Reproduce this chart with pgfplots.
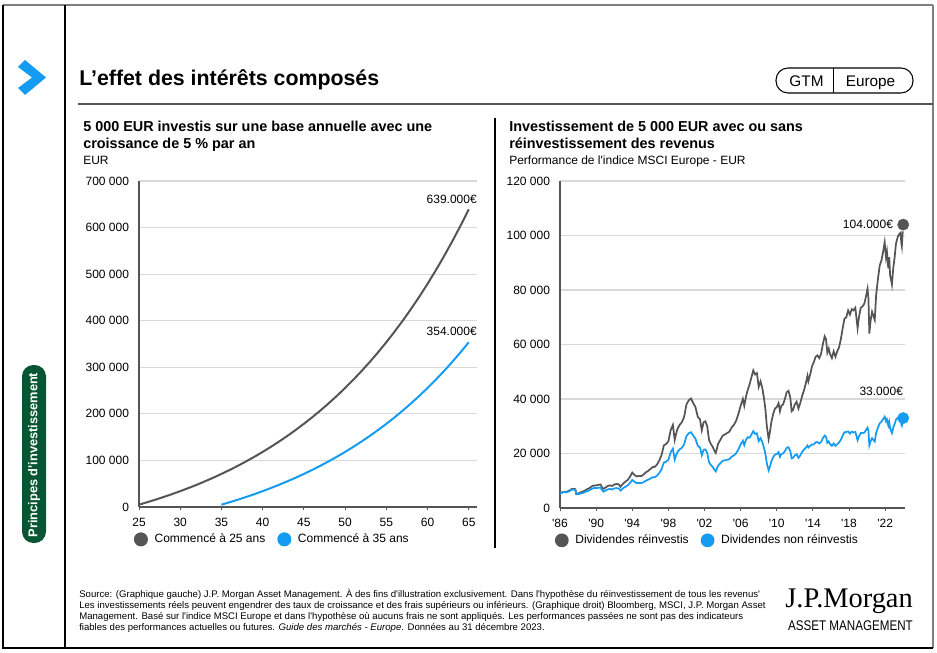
\documentclass[border=0pt]{standalone}
\usepackage{pgfplots}
\usepackage{pgfplotstable}
\pgfplotsset{compat=1.18}
\usepackage{fontspec}
\setmainfont{Liberation Sans}
\newfontfamily\jpserif{Liberation Serif}
\newfontfamily\jpnarrow[FakeStretch=0.83]{Liberation Sans}
\newcommand\q{\textquotesingle}
\definecolor{jgray}{RGB}{85,85,88}
\definecolor{jblue}{RGB}{20,156,243}
\definecolor{jgreen}{RGB}{8,85,52}
\definecolor{gridc}{RGB}{217,217,217}
\definecolor{axc}{RGB}{85,85,85}

\pgfplotstableread{
x y
25 5000
26 10250
27 15763
28 21551
29 27628
30 34010
31 40710
32 47746
33 55133
34 62889
35 71034
36 79586
37 88565
38 97993
39 107893
40 118287
41 129202
42 140662
43 152695
44 165330
45 178596
46 192526
47 207152
48 222510
49 238635
50 255567
51 273346
52 292013
53 311614
54 332194
55 353804
56 376494
57 400319
58 425335
59 451602
60 479182
61 508141
62 538548
63 570475
64 603999
65 639199
}\tabA

\pgfplotstableread{
x y
35 5000
36 10250
37 15763
38 21551
39 27628
40 34010
41 40710
42 47746
43 55133
44 62889
45 71034
46 79586
47 88565
48 97993
49 107893
50 118287
51 129202
52 140662
53 152695
54 165330
55 178596
56 192526
57 207152
58 222510
59 238635
60 255567
61 273346
62 292013
63 311614
64 332194
65 353804
}\tabB

\pgfplotstableread{
x y
1986.0 5200
1986.25 5800
1986.5 5900
1986.75 6000
1987.0 6300
1987.25 6900
1987.5 7100
1987.7 6900
1987.8 5200
1988.0 5300
1988.25 5700
1988.5 6000
1988.75 6400
1989.0 6900
1989.25 7300
1989.5 7900
1989.75 8300
1990.0 8300
1990.25 8500
1990.5 8600
1990.65 7600
1990.8 7000
1991.0 7400
1991.25 8000
1991.5 8300
1991.75 8100
1992.0 8600
1992.25 8800
1992.5 8700
1992.7 7800
1992.9 8600
1993.0 9000
1993.25 9700
1993.5 10300
1993.75 11500
1994.0 13000
1994.1 12600
1994.3 12000
1994.5 11600
1994.75 11800
1995.0 11700
1995.25 12300
1995.5 13100
1995.75 13600
1996.0 14300
1996.25 15000
1996.5 15100
1996.75 16000
1997.0 17500
1997.25 19500
1997.5 23000
1997.75 23500
1998.0 24500
1998.25 28500
1998.5 30500
1998.7 25000
1998.8 26500
1999.0 29000
1999.25 30500
1999.5 31500
1999.75 33500
2000.0 38000
2000.25 39500
2000.5 40200
2000.75 38500
2001.0 37000
2001.25 33500
2001.5 32500
2001.7 28500
2001.9 31500
2002.1 31800
2002.3 30000
2002.5 25000
2002.7 23500
2002.9 22500
2003.1 21000
2003.25 20200
2003.5 23500
2003.75 25000
2004.0 26500
2004.25 27000
2004.5 27500
2004.75 28000
2005.0 29500
2005.25 30500
2005.5 32000
2005.75 34500
2006.0 37500
2006.25 40000
2006.4 37500
2006.6 41000
2006.8 43500
2007.0 45500
2007.2 48000
2007.4 50500
2007.6 49000
2007.8 49500
2008.0 44500
2008.2 46500
2008.4 44000
2008.6 40000
2008.75 36000
2008.9 30000
2009.1 25300
2009.25 28000
2009.4 31500
2009.6 34500
2009.8 36500
2010.0 37000
2010.2 38500
2010.35 35500
2010.5 37500
2010.7 38000
2010.9 40000
2011.1 42500
2011.3 43000
2011.5 40500
2011.65 35500
2011.8 36000
2012.0 38000
2012.2 39000
2012.4 36500
2012.6 38500
2012.8 41000
2013.0 43000
2013.2 45500
2013.4 48500
2013.5 46500
2013.7 49000
2013.9 52000
2014.1 53500
2014.3 55500
2014.5 56000
2014.7 55000
2014.9 56500
2015.1 60000
2015.3 63000
2015.45 62000
2015.6 57000
2015.75 58500
2015.9 56500
2016.1 55000
2016.3 57500
2016.5 55500
2016.7 57500
2016.9 59000
2017.1 62000
2017.3 66000
2017.5 69500
2017.7 70000
2017.9 72500
2018.1 71000
2018.3 73000
2018.5 72500
2018.7 73500
2018.85 69000
2018.95 66000
2019.1 70000
2019.3 73500
2019.5 74000
2019.7 75000
2019.9 78000
2020.05 80500
2020.15 77000
2020.25 64000
2020.4 69000
2020.55 72000
2020.7 70500
2020.85 69000
2021.0 78000
2021.2 84000
2021.4 89000
2021.6 91000
2021.75 93500
2021.95 97500
2022.1 92000
2022.2 94000
2022.35 88000
2022.45 92000
2022.55 85500
2022.75 82000
2022.9 88000
2023.05 92000
2023.2 97000
2023.4 99500
2023.55 100500
2023.7 101000
2023.8 97000
2023.85 96000
2023.95 101500
}\tabC

\pgfplotstableread{
x y
1986.0 5200
1986.25 5700
1986.5 5800
1986.75 5800
1987.0 6100
1987.25 6600
1987.5 6800
1987.7 6600
1987.8 5000
1988.0 5000
1988.25 5300
1988.5 5500
1988.75 5800
1989.0 6200
1989.25 6500
1989.5 7000
1989.75 7300
1990.0 7300
1990.25 7400
1990.5 7500
1990.65 6600
1990.8 6000
1991.0 6300
1991.25 6800
1991.5 7000
1991.75 6800
1992.0 7200
1992.25 7300
1992.5 7200
1992.7 6400
1992.9 7000
1993.0 7300
1993.25 7800
1993.5 8300
1993.75 9200
1994.0 10300
1994.1 10000
1994.3 9500
1994.5 9100
1994.75 9200
1995.0 9100
1995.25 9500
1995.5 10000
1995.75 10400
1996.0 10800
1996.25 11300
1996.5 11300
1996.75 11900
1997.0 12900
1997.25 14300
1997.5 16700
1997.75 17000
1998.0 17700
1998.25 20400
1998.5 21800
1998.7 17800
1998.8 18800
1999.0 20500
1999.25 21500
1999.5 22100
1999.75 23400
2000.0 26400
2000.25 27400
2000.5 27800
2000.75 26600
2001.0 25400
2001.25 22900
2001.5 22200
2001.7 19400
2001.9 21400
2002.1 21500
2002.3 20200
2002.5 16800
2002.7 15800
2002.9 15100
2003.1 14000
2003.25 13400
2003.5 15500
2003.75 16400
2004.0 17300
2004.25 17500
2004.5 17700
2004.75 17900
2005.0 18800
2005.25 19300
2005.5 20100
2005.75 21500
2006.0 23300
2006.25 24700
2006.4 23100
2006.6 25100
2006.8 26000
2007.0 25800
2007.2 27000
2007.4 28200
2007.6 27200
2007.8 27400
2008.0 24600
2008.2 25600
2008.4 24200
2008.6 21900
2008.75 19700
2008.9 16400
2009.1 13800
2009.25 15200
2009.4 17100
2009.6 18600
2009.8 19600
2010.0 19800
2010.2 20500
2010.35 18800
2010.5 19800
2010.7 20000
2010.9 20900
2011.1 22100
2011.3 22300
2011.5 20900
2011.65 18200
2011.8 18400
2012.0 19300
2012.2 19700
2012.4 18400
2012.6 19300
2012.8 20500
2013.0 21400
2013.2 22000
2013.4 22900
2013.5 22200
2013.7 22800
2013.9 23300
2014.1 23300
2014.3 24100
2014.5 24200
2014.7 23700
2014.9 24200
2015.1 25600
2015.3 26600
2015.45 26100
2015.6 23900
2015.75 24400
2015.9 23500
2016.1 22800
2016.3 23700
2016.5 22800
2016.7 23500
2016.9 24000
2017.1 25100
2017.3 26600
2017.5 27800
2017.7 27900
2017.9 28100
2018.1 27300
2018.3 28000
2018.5 27700
2018.7 27900
2018.85 26100
2018.95 24900
2019.1 26300
2019.3 27500
2019.5 27500
2019.7 27700
2019.9 28700
2020.05 29500
2020.15 28200
2020.25 23000
2020.4 24600
2020.55 25600
2020.7 25000
2020.85 24400
2021.0 27500
2021.2 29500
2021.4 31100
2021.6 31700
2021.75 32500
2021.95 33500
2022.1 31800
2022.2 32500
2022.35 30300
2022.45 31600
2022.55 29300
2022.75 27500
2022.9 29500
2023.05 30800
2023.2 32400
2023.4 33100
2023.55 32500
2023.7 32300
2023.8 30800
2023.85 30300
2023.95 31800
}\tabD

\pgfplotsset{
  jpm/.style={
    scale only axis,
    anchor=south west,
    axis x line*=bottom,
    axis y line*=left,
    axis line style={-},
    x axis line style={axc, line width=1.1pt},
    y axis line style={axc, line width=1.3pt},
    ymajorgrids,
    grid style={gridc, line width=0.8pt},
    tick align=outside,
    major tick length=2.5pt,
    xtick style={axc, line width=0.6pt},
    ytick style={draw=none},
    tick label style={font=\fontsize{9}{10}\selectfont, text=black},
    xticklabel style={yshift=-2pt, text height=6.6pt, text depth=0pt},
    yticklabel style={xshift=-1.5pt},
    scaled y ticks=false,
    /pgf/number format/.cd, fixed, assume math mode=true, 1000 sep={\ },
    /pgfplots/.cd,
    legend columns=2,
    legend cell align=left,
    legend style={draw=none, fill=none, at={(0,0)}, anchor=north west,
      font=\fontsize{9}{10}\selectfont, inner sep=0pt,
      /tikz/every even column/.append style={column sep=7pt}},
    legend image code/.code={\fill[##1] (0pt,0pt) circle (4.5pt); \path (7.5pt,0pt);},
  }
}

\begin{document}
\begin{tikzpicture}
\useasboundingbox (0,0) rectangle (702.75pt,-489pt);
\begin{scope}[x=0.75pt,y=-0.75pt]
  % frame
  \draw[color=gray, line width=1.3pt] (3,5) -- (933,5);
  \draw[color=gray, line width=1.3pt] (933,5) -- (933,648);
  \draw[color=black, line width=0.9pt] (3,5) -- (3,648) -- (933,648);
  \draw[color=black, line width=0.8pt] (65,5) -- (65,648);
  % chevron
  \fill[jblue] (18,67) -- (25,60) -- (46,77.5) -- (25,95) -- (18,88) -- (32,77.5) -- cycle;
  % title
  \node[anchor=base west, inner sep=0pt, font=\bfseries\fontsize{16}{19}\selectfont] at (79,86) {L’effet des intérêts composés};
  \draw[color=axc, line width=1.2pt] (78,104) -- (933,104);
  % GTM box
  \draw[line width=0.8pt, rounded corners=9pt] (776,68) rectangle (913,93);
  \draw[line width=0.6pt] (833,68) -- (833,93);
  \node[anchor=base, inner sep=0pt, font=\fontsize{11.5}{13}\selectfont] at (806.5,87) {GTM};
  \node[anchor=base, inner sep=0pt, font=\fontsize{11.5}{13}\selectfont] at (870.5,87) {Europe};
  % sidebar pill
  \fill[jgreen, rounded corners=8.5pt] (22,365) rectangle (46,543);
  \node[rotate=90, text=white, inner sep=0pt, font=\bfseries\fontsize{9.6}{11}\selectfont] at (34,455) {Principes d\q investissement};
  % separator
  \draw[line width=0.8pt] (495,118) -- (495,548);
  % subtitles left
  \node[anchor=base west, inner sep=0pt, font=\bfseries\fontsize{10.8}{12}\selectfont] at (83,132) {5 000 EUR investis sur une base annuelle avec une};
  \node[anchor=base west, inner sep=0pt, font=\bfseries\fontsize{10.8}{12}\selectfont] at (83,149) {croissance de 5 \% par an};
  \node[anchor=base west, inner sep=0pt, font=\fontsize{9}{10}\selectfont] at (83,164.5) {EUR};
  % subtitles right
  \node[anchor=base west, inner sep=0pt, font=\bfseries\fontsize{10.8}{12}\selectfont] at (509,132) {Investissement de 5 000 EUR avec ou sans};
  \node[anchor=base west, inner sep=0pt, font=\bfseries\fontsize{10.8}{12}\selectfont] at (509,149) {réinvestissement des revenus};
  \node[anchor=base west, inner sep=0pt, font=\fontsize{9}{10}\selectfont] at (509,164.5) {Performance de l\q indice MSCI Europe - EUR};
  % footer
  \node[anchor=base west, inner sep=0pt, font=\fontsize{7.2}{8}\selectfont] at (79,597.5) {Source: (Graphique gauche) J.P. Morgan Asset Management. À des fins d\q illustration exclusivement. Dans l\q hypothèse du réinvestissement de tous les revenus\q};
  \node[anchor=base west, inner sep=0pt, font=\fontsize{7.2}{8}\selectfont] at (79,608.5) {Les investissements réels peuvent engendrer des taux de croissance et des frais supérieurs ou inférieurs. (Graphique droit) Bloomberg, MSCI, J.P. Morgan Asset};
  \node[anchor=base west, inner sep=0pt, font=\fontsize{7.2}{8}\selectfont] at (79,619.5) {Management. Basé sur l\q indice MSCI Europe et dans l\q hypothèse où aucuns frais ne sont appliqués. Les performances passées ne sont pas des indicateurs};
  \node[anchor=base west, inner sep=0pt, font=\fontsize{7.2}{8}\selectfont] at (79,630.5) {fiables des performances actuelles ou futures. \textit{Guide des marchés - Europe}. Données au 31 décembre 2023.};
  % logo
  \node[anchor=base east, inner sep=0pt, font=\jpserif\fontsize{21.3}{23}\selectfont] at (913,607) {J.P.Morgan};
  \node[anchor=base east, inner sep=0pt, font=\jpnarrow\fontsize{10.5}{11}\selectfont] at (913,630) {ASSET MANAGEMENT};
\end{scope}

% left chart
\begin{axis}[jpm, at={(104.25pt,-380.25pt)}, width=253.5pt, height=244.5pt,
  xmin=25, xmax=66, ymin=0, ymax=700000,
  xtick={25,30,...,65}, ytick={0,100000,...,700000},
  legend style={xshift=-4pt, yshift=-18pt}]
\addplot[color=jgray, line width=1.5pt] table {\tabA};
\addlegendentry{Commencé à 25 ans}
\addplot[color=jblue, line width=1.5pt] table {\tabB};
\addlegendentry{Commencé à 35 ans}
\node[anchor=east, inner sep=0pt, font=\fontsize{9}{10}\selectfont] at (axis cs:66,660000) {639.000€};
\node[anchor=east, inner sep=0pt, font=\fontsize{9}{10}\selectfont] at (axis cs:66,378000) {354.000€};
\end{axis}

% right chart
\begin{axis}[jpm, at={(420pt,-381pt)}, width=258.75pt, height=245.25pt,
  xmin=1986, xmax=2024.2, ymin=0, ymax=120000, clip=false,
  xtick={1986,1990,...,2022},
  xticklabels={\q86,\q90,\q94,\q98,\q02,\q06,\q10,\q14,\q18,\q22},
  ytick={0,20000,...,120000},
  legend style={xshift=-4pt, yshift=-18pt}]
\addplot[color=jgray, line width=1.3pt] table {\tabC};
\addlegendentry{Dividendes réinvestis}
\addplot[color=jblue, line width=1.3pt] table {\tabD};
\addlegendentry{Dividendes non réinvestis}
\addplot[forget plot, only marks, mark=*, mark size=4.2pt, color=jgray] coordinates {(2024.0,104000)};
\addplot[forget plot, only marks, mark=*, mark size=4.2pt, color=jblue] coordinates {(2024.0,33000)};
\node[anchor=east, inner sep=0pt, font=\fontsize{9}{10}\selectfont] at (axis cs:2022.9,104200) {104.000€};
\node[anchor=east, inner sep=0pt, font=\fontsize{9}{10}\selectfont] at (axis cs:2024.0,42900) {33.000€};
\end{axis}
\end{tikzpicture}
\end{document}
